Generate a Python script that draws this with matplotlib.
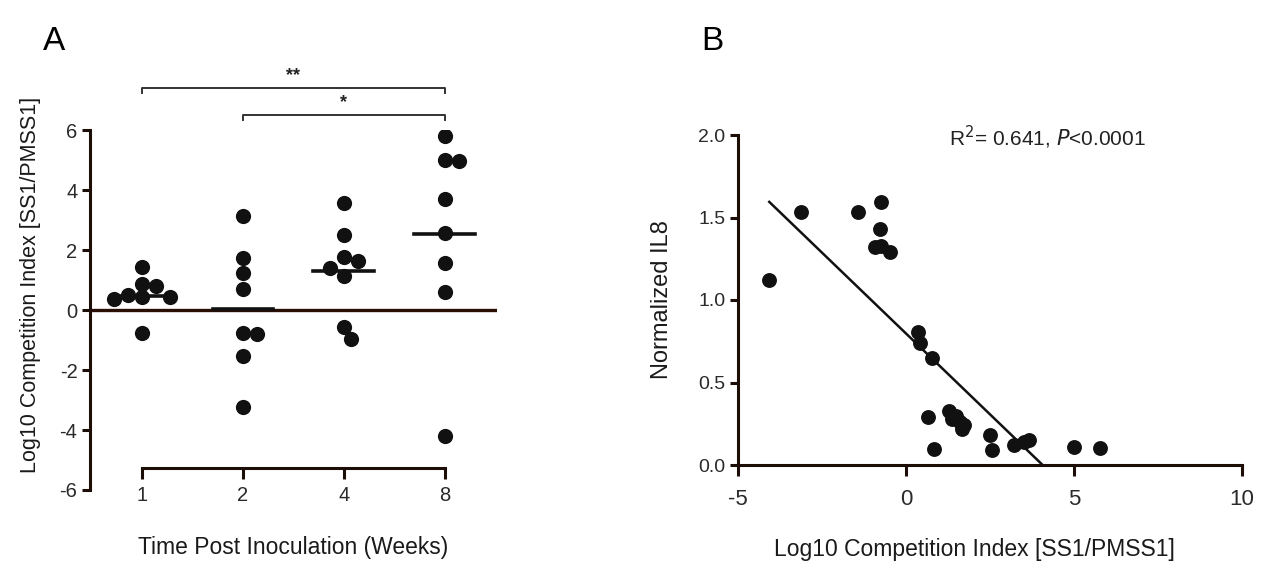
import numpy as np
import matplotlib
matplotlib.use("Agg")
import matplotlib.pyplot as plt

plt.rcParams['font.family'] = ['Liberation Sans', 'DejaVu Sans']
plt.rcParams['axes.unicode_minus'] = False

# panel A data
weeks = ["1", "2", "4", "8"]
week1 = [1.45, 0.88, 0.8, 0.5, 0.45, 0.42, 0.38, -0.78]
week2 = [3.13, 1.73, 1.24, 0.69, -0.77, -0.8, -1.53, -3.24]
week4 = [3.58, 2.49, 1.77, 1.62, 1.4, 1.14, -0.56, -0.97]
week8 = [5.81, 5.0, 4.97, 3.71, 2.57, 1.56, 0.59, -4.19]
medians = [0.47, 0.03, 1.3, 2.52]
sig_pairs = [(0, 3, "**"), (1, 3, "*")]

# panel B data
ci = [-4.07, -3.12, -1.43, -0.73, -0.76, -0.91, -0.73, -0.47, 0.37, 0.41, 0.76,
      0.64, 0.82, 1.27, 1.37, 1.62, 1.67, 1.72, 1.5, 2.51, 2.57, 3.21, 3.66, 3.5,
      5.0, 5.76]
il8 = [1.12, 1.535, 1.535, 1.595, 1.43, 1.32, 1.33, 1.29, 0.807, 0.738, 0.65,
       0.29, 0.10, 0.33, 0.28, 0.26, 0.22, 0.24, 0.30, 0.18, 0.09, 0.12, 0.15,
       0.14, 0.11, 0.106]
fit_slope = -0.196
fit_intercept = 0.797

ink = '#1c0d06'
dot = '#111111'

fig = plt.figure(figsize=(12.67, 5.67), dpi=100)


def swarm(vals, xpx=101.0, ypx=30.0, d=13.5, step=7.0):
    placed = []
    offs = []
    for v in vals:
        y = v * ypx
        cands = [0.0]
        for i in range(1, 8):
            cands += [i * step, -i * step]
        for c in cands:
            if all((c - px) ** 2 + (y - py) ** 2 >= d * d for px, py in placed):
                break
        placed.append((c, y))
        offs.append(c / xpx)
    return offs


# ---------- panel A ----------
axA = fig.add_axes([90 / 1267, 77 / 567, 407 / 1267, 360 / 567])
axA.set_xlim(-0.515, 3.52)
axA.set_ylim(-6, 6)
groups = [week1, week2, week4, week8]
for i, g in enumerate(groups):
    offs = swarm(g)
    axA.scatter(np.array(offs) + i, g, s=120, color=dot, zorder=3, linewidths=0)
    axA.plot([i - 0.3, i + 0.3], [medians[i], medians[i]], color=dot, lw=2.6, zorder=4)
axA.axhline(0, color='#2a0e04', lw=2.4, zorder=2)

for sp in ['top', 'right']:
    axA.spines[sp].set_visible(False)
axA.spines['left'].set_linewidth(2.2)
axA.spines['left'].set_color(ink)
axA.spines['left'].set_bounds(-6, 6)
axA.spines['bottom'].set_position(('data', -5.27))
axA.spines['bottom'].set_bounds(0, 3)
axA.spines['bottom'].set_linewidth(2.2)
axA.spines['bottom'].set_color(ink)
axA.set_xticks(range(len(weeks)))
axA.set_xticklabels(weeks)
axA.set_yticks([-6, -4, -2, 0, 2, 4, 6])
axA.tick_params(axis='both', direction='out', width=2.2, length=6, color=ink,
                labelsize=14.5, labelcolor='#2a2a2a', pad=3)
axA.tick_params(axis='x', length=8, pad=5)
axA.set_xlabel("Time Post Inoculation (Weeks)", fontsize=16.5, labelpad=22,
               color='#1a1a1a')
axA.set_ylabel("Log10 Competition Index [SS1/PMSS1]", fontsize=15.5, color='#1a1a1a')
axA.yaxis.set_label_coords(-0.12, 0.57)

for k, (a, b, star) in enumerate(sig_pairs):
    yb = 7.4 - 0.9 * k
    axA.plot([a, a, b, b], [yb - 0.15, yb, yb, yb - 0.15], color='#333333', lw=1.4,
             clip_on=False)
    axA.text((a + b) / 2, yb + 0.12, star, ha='center', va='bottom', fontsize=13,
             fontweight='bold', color='#222222')

fig.text(54 / 1267, 1 - 42 / 567, "A", fontsize=24, ha='center', va='center')

# ---------- panel B ----------
axB = fig.add_axes([738 / 1267, 102 / 567, 504 / 1267, 330 / 567])
axB.set_xlim(-5, 10)
axB.set_ylim(0, 2)
axB.scatter(ci, il8, s=115, color=dot, zorder=3, linewidths=0)
x0 = min(ci)
x1 = -fit_intercept / fit_slope
axB.plot([x0, x1], [fit_intercept + fit_slope * x0, fit_intercept + fit_slope * x1],
         color=dot, lw=1.8, zorder=4)
for sp in ['top', 'right']:
    axB.spines[sp].set_visible(False)
for sp in ['left', 'bottom']:
    axB.spines[sp].set_linewidth(2.2)
    axB.spines[sp].set_color(ink)
axB.set_xticks([-5, 0, 5, 10])
axB.set_yticks([0.0, 0.5, 1.0, 1.5, 2.0])
axB.set_yticklabels(["0.0", "0.5", "1.0", "1.5", "2.0"])
axB.tick_params(axis='both', direction='out', width=2.2, length=6, color=ink,
                labelcolor='#2a2a2a', pad=3)
axB.tick_params(axis='x', labelsize=16, length=8, pad=9)
axB.tick_params(axis='y', labelsize=14)
axB.set_xlabel("Log10 Competition Index [SS1/PMSS1]", fontsize=16.5, color='#1a1a1a')
axB.xaxis.set_label_coords(0.47, -0.22)
axB.set_ylabel("Normalized IL8", fontsize=17, labelpad=18, color='#1a1a1a')
axB.text(1047 / 1267, 1 - 137 / 567, r"R$^2$= 0.641, $P$<0.0001", transform=fig.transFigure,
         ha='center', va='center', fontsize=15, color='#222222')

fig.text(712 / 1267, 1 - 42 / 567, "B", fontsize=24, ha='center', va='center')

fig.savefig("out.png", dpi=100, facecolor='white')
